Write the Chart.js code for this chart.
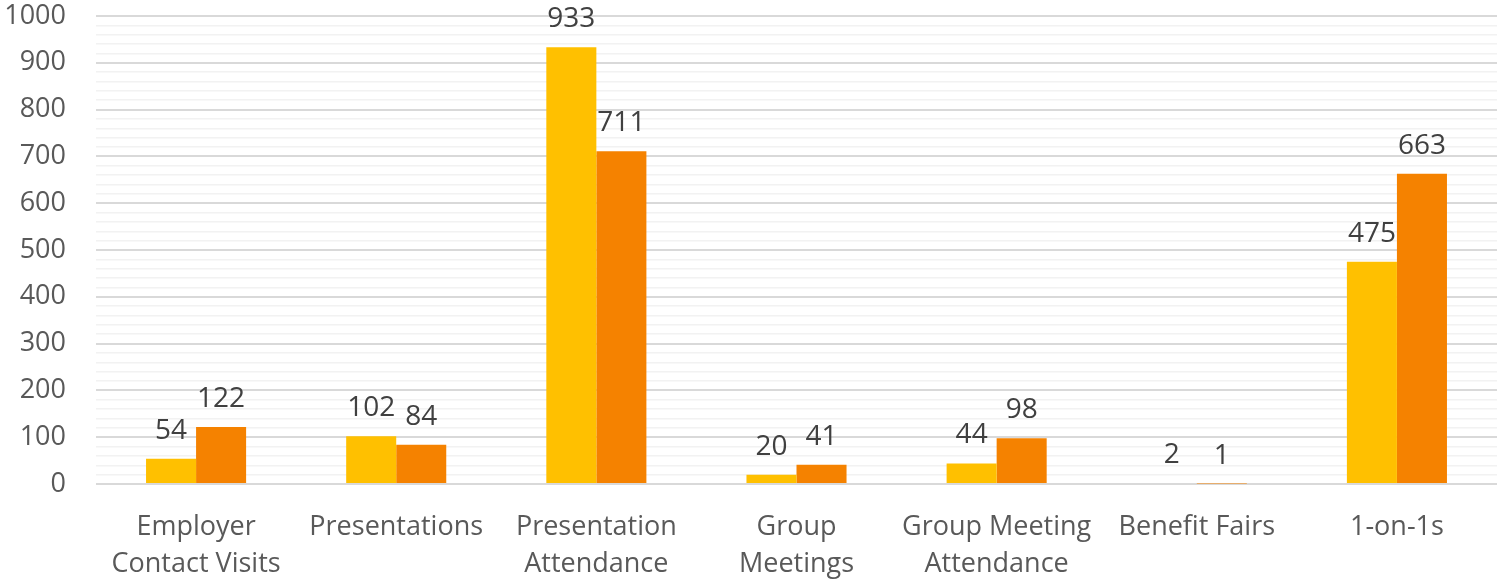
<!DOCTYPE html>
<html>
<head>
<meta charset="utf-8">
<script src="https://cdn.jsdelivr.net/npm/chart.js@4/dist/chart.umd.min.js"></script>
<style>
  html, body { margin: 0; padding: 0; background: #fff; }
  #chart { display: block; }
</style>
</head>
<body>
<canvas id="chart" width="1499" height="581"></canvas>
<script>
const categories = [
  ["Employer", "Contact Visits"],
  "Presentations",
  ["Presentation", "Attendance"],
  ["Group", "Meetings"],
  ["Group Meeting", "Attendance"],
  "Benefit Fairs",
  "1-on-1s"
];
const seriesA = [54, 102, 933, 20, 44, 2, 475];
const seriesB = [122, 84, 711, 41, 98, 1, 663];
const yMin = 0;
const yMax = 1000;
const yStep = 20;

const FONT = "'Open Sans', sans-serif";

// value labels above each bar
const barLabels = {
  id: "barLabels",
  afterDatasetsDraw(chart) {
    const ctx = chart.ctx;
    ctx.save();
    ctx.font = "28px " + FONT;
    ctx.fillStyle = "#404040";
    ctx.textAlign = "center";
    ctx.textBaseline = "alphabetic";
    chart.data.datasets.forEach((ds, i) => {
      chart.getDatasetMeta(i).data.forEach((bar, j) => {
        ctx.fillText(String(ds.data[j]), bar.x, bar.y - 20);
      });
    });
    ctx.restore();
  }
};

new Chart(document.getElementById("chart"), {
  type: "bar",
  data: {
    labels: categories,
    datasets: [
      { data: seriesA, backgroundColor: "#FFC000" },
      { data: seriesB, backgroundColor: "#F58200" }
    ]
  },
  options: {
    responsive: false,
    animation: false,
    layout: { padding: { top: 16, right: 2, left: 0, bottom: 0 } },
    plugins: { legend: { display: false }, tooltip: { enabled: false } },
    datasets: { bar: { categoryPercentage: 0.5, barPercentage: 1 } },
    scales: {
      x: {
        grid: { display: false },
        border: { display: false },
        ticks: { color: "#595959", font: { family: FONT, size: 27, lineHeight: 1.4 }, padding: 16, maxRotation: 0, autoSkip: false },
        afterFit(scale) { scale.height = 97; scale.paddingTop = 0; scale.paddingBottom = 0; }
      },
      y: {
        min: yMin,
        max: yMax,
        border: { display: false },
        grid: {
          color: c => (c.tick.value % 100 === 0 ? "#d9d9d9" : "#f2f2f2"),
          lineWidth: c => (c.tick.value % 100 === 0 ? 2 : 1.5),
          drawTicks: false
        },
        ticks: {
          stepSize: yStep,
          autoSkip: false,
          color: "#595959",
          font: { family: FONT, size: 27 },
          padding: 30,
          callback: v => (v % 100 === 0 ? v : "")
        },
        afterFit(scale) { scale.width = 96; scale.paddingTop = 0; scale.paddingBottom = 0; }
      }
    }
  },
  plugins: [barLabels]
});
</script>
</body>
</html>
